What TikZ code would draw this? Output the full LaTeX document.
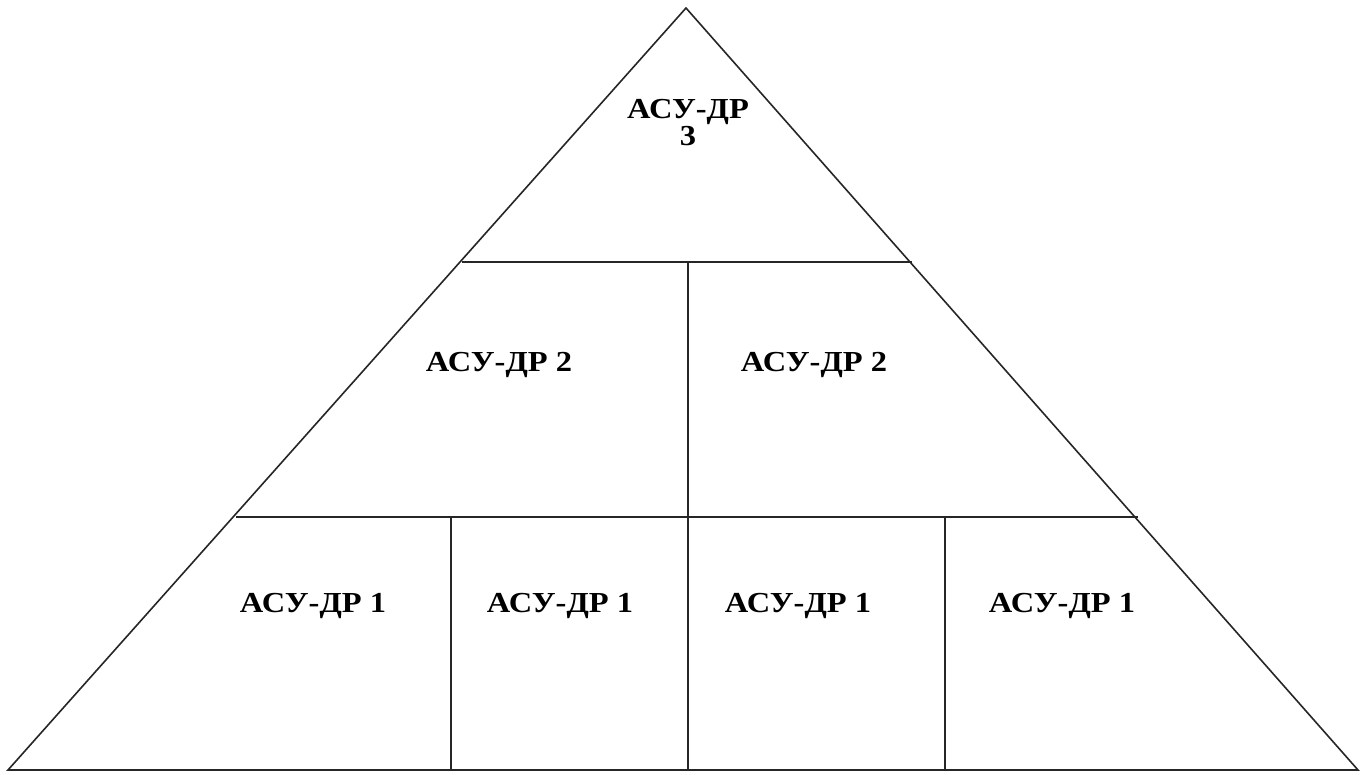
\documentclass[tikz,border=0pt]{standalone}
\usepackage{fontspec}
\setmainfont{Liberation Serif}
\newcommand{\wide}[1]{\scalebox{1.12}[1]{#1}}
\begin{document}
\begin{tikzpicture}[x=1pt,y=-1pt,
  edge/.style={line width=1.6pt,draw=black!85},
  lbl/.style={font=\fontsize{29}{27}\selectfont\bfseries,inner sep=0pt,align=center,anchor=base}]
\useasboundingbox (0,0) rectangle (1363,774);
\coordinate (A) at (686,8);
\coordinate (BL) at (8,770);
\coordinate (BR) at (1358,770);
\coordinate (L1) at (462,262);
\coordinate (R1) at (912,262);
\coordinate (L2) at (236,517);
\coordinate (R2) at (1138,517);
\coordinate (M1) at (688,262);
\coordinate (M3) at (688,770);
\coordinate (V1t) at (451,517);
\coordinate (V1b) at (451,770);
\coordinate (V2t) at (945,517);
\coordinate (V2b) at (945,770);
\draw[edge] (BL) -- (A) -- (BR) -- cycle;
\draw[edge] (L1) -- (R1);
\draw[edge] (L2) -- (R2);
\draw[edge] (M1) -- (M3);
\draw[edge] (V1t) -- (V1b);
\draw[edge] (V2t) -- (V2b);
\node[lbl,anchor=center] (t3) at (688,123) {\wide{АСУ-ДР}\\\wide{3}};
\node[lbl] (t2a) at (499,371) {\wide{АСУ-ДР 2}};
\node[lbl] (t2b) at (814,371) {\wide{АСУ-ДР 2}};
\node[lbl] (t1a) at (313,612) {\wide{АСУ-ДР 1}};
\node[lbl] (t1b) at (560,612) {\wide{АСУ-ДР 1}};
\node[lbl] (t1c) at (798,612) {\wide{АСУ-ДР 1}};
\node[lbl] (t1d) at (1062,612) {\wide{АСУ-ДР 1}};
\end{tikzpicture}
\end{document}
